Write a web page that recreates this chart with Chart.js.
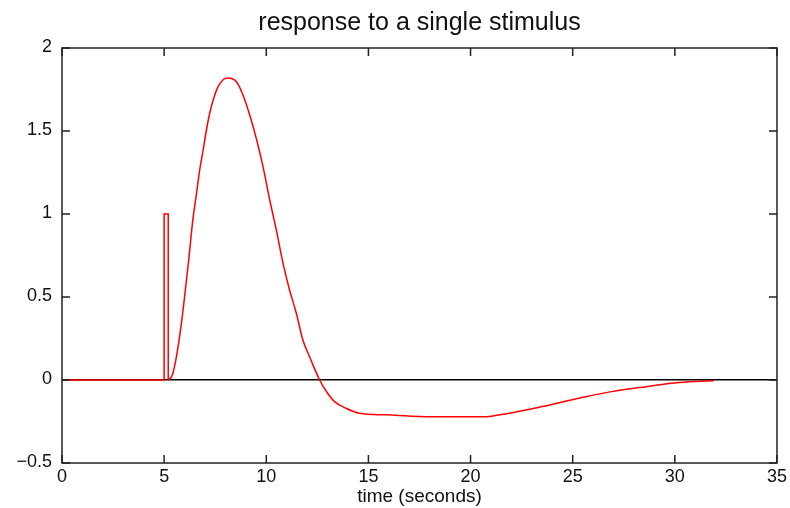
<!DOCTYPE html>
<html>
<head>
<meta charset="utf-8">
<script src="https://cdn.jsdelivr.net/npm/chart.js@4.4.1/dist/chart.umd.min.js"></script>
<style>
  html, body { margin: 0; padding: 0; background: #fff; }
  #wrap { width: 790px; height: 508px; }
</style>
</head>
<body>
<div id="wrap"><canvas id="response-chart" width="790" height="508"></canvas></div>
<script>
// stimulus pulse
const stimTime = [0, 5, 5, 5.2, 5.2];
const stimValue = [0, 0, 1, 1, 0];

// response to the stimulus
const respTime = [5.2, 5.4, 5.6, 5.8, 6.0, 6.2, 6.4, 6.58, 6.74, 6.91, 7.07, 7.23, 7.4, 7.64, 7.9, 8.13, 8.54, 8.86, 9.19, 9.51, 9.84, 10.17, 10.49, 10.82, 11.14, 11.47, 11.79, 12.12, 12.61, 13.0, 13.34, 13.9, 14.56, 15.88, 17.5, 19.0, 20.6, 21.9, 23.5, 25.3, 26.9, 28.6, 30.2, 31.9];
const respValue = [0, 0.03, 0.14, 0.30, 0.50, 0.72, 0.96, 1.12, 1.265, 1.386, 1.506, 1.607, 1.687, 1.767, 1.81, 1.82, 1.797, 1.717, 1.596, 1.456, 1.285, 1.084, 0.904, 0.703, 0.542, 0.402, 0.241, 0.14, 0, -0.08, -0.13, -0.17, -0.20, -0.21, -0.22, -0.222, -0.222, -0.20, -0.16, -0.11, -0.07, -0.04, -0.015, -0.005];

const xTicks = [0, 5, 10, 15, 20, 25, 30, 35];
const yTicks = [-0.5, 0, 0.5, 1, 1.5, 2];

const FONT = "'Liberation Sans', Arial, sans-serif";
const TICK_LEN = 8;

function toPoints(xs, ys) {
    return xs.map((x, i) => ({ x: x, y: ys[i] }));
}

// box around the plot plus inward ticks on all four sides
const framePlugin = {
    id: 'frame',
    afterDraw(chart) {
        const { ctx, chartArea: a, scales } = chart;
        ctx.save();
        ctx.strokeStyle = '#222';
        ctx.lineWidth = 1.5;
        ctx.strokeRect(a.left, a.top, a.right - a.left, a.bottom - a.top);
        ctx.beginPath();
        xTicks.forEach(v => {
            const px = scales.x.getPixelForValue(v);
            ctx.moveTo(px, a.bottom); ctx.lineTo(px, a.bottom - TICK_LEN);
            ctx.moveTo(px, a.top); ctx.lineTo(px, a.top + TICK_LEN);
        });
        yTicks.forEach(v => {
            const py = scales.y.getPixelForValue(v);
            ctx.moveTo(a.left, py); ctx.lineTo(a.left + TICK_LEN, py);
            ctx.moveTo(a.right, py); ctx.lineTo(a.right - TICK_LEN, py);
        });
        ctx.stroke();
        ctx.restore();
    }
};

new Chart(document.getElementById('response-chart').getContext('2d'), {
    type: 'scatter',
    data: {
        datasets: [
            {
                label: 'stimulus',
                data: toPoints(stimTime, stimValue),
                showLine: true,
                borderColor: '#ff0000',
                borderWidth: 1.5,
                pointRadius: 0,
                tension: 0,
            },
            {
                label: 'response',
                data: toPoints(respTime, respValue),
                showLine: true,
                borderColor: '#ff0000',
                borderWidth: 1.5,
                pointRadius: 0,
                cubicInterpolationMode: 'monotone',
            }
        ]
    },
    options: {
        responsive: false,
        animation: false,
        layout: { padding: { left: 0, right: 12, top: 0, bottom: 0 } },
        plugins: {
            legend: { display: false },
            tooltip: { enabled: false },
            title: { display: false }
        },
        scales: {
            // top axis only carries the chart title, centred over the plot
            top: {
                type: 'linear',
                position: 'top',
                min: 0,
                max: 35,
                afterFit: s => { s.height = 48; },
                grid: { display: false, drawTicks: false },
                border: { display: false },
                ticks: { display: false },
                title: {
                    display: true,
                    text: 'response to a single stimulus',
                    color: '#111',
                    font: { family: FONT, size: 25 },
                    padding: { top: 8, bottom: 0 }
                }
            },
            x: {
                type: 'linear',
                min: 0,
                max: 35,
                afterBuildTicks: s => { s.ticks = xTicks.map(v => ({ value: v })); },
                afterFit: s => { s.height = 45; },
                grid: { display: false, drawTicks: false },
                border: { display: false },
                ticks: {
                    color: '#111',
                    font: { family: FONT, size: 18 },
                    padding: 3,
                    maxRotation: 0
                },
                title: {
                    display: true,
                    text: 'time (seconds)',
                    color: '#111',
                    font: { family: FONT, size: 19 },
                    padding: { top: -6, bottom: 0 }
                }
            },
            y: {
                type: 'linear',
                min: -0.5,
                max: 2,
                afterBuildTicks: s => { s.ticks = yTicks.map(v => ({ value: v })); },
                afterFit: s => { s.width = 62; },
                grid: {
                    drawTicks: false,
                    color: c => (c.tick && c.tick.value === 0) ? '#000' : 'rgba(0,0,0,0)',
                    lineWidth: 1.5
                },
                border: { display: false },
                ticks: {
                    color: '#111',
                    font: { family: FONT, size: 18 },
                    padding: 10,
                    labelOffset: -1,
                    callback: v => (v < 0 ? '\u2212' + Math.abs(v) : String(v))
                }
            }
        }
    },
    plugins: [framePlugin]
});
</script>
</body>
</html>
